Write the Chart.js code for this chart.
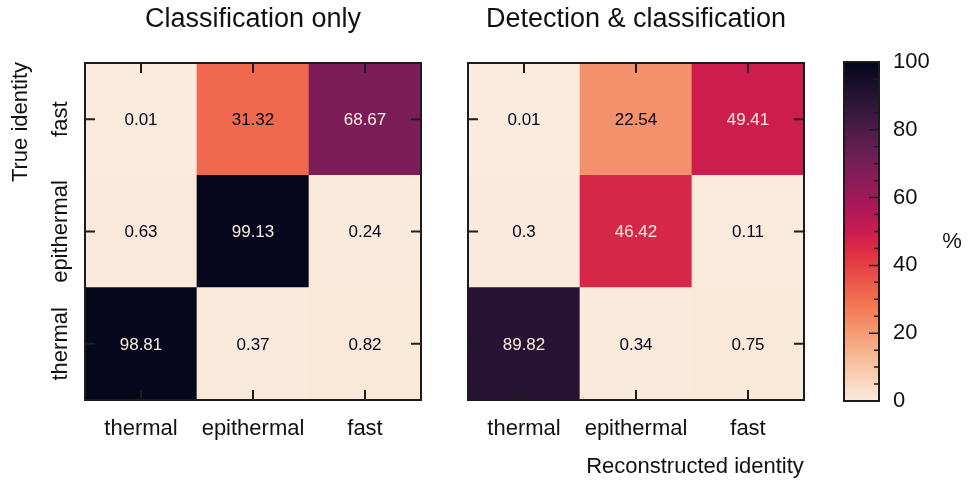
<!DOCTYPE html>
<html>
<head>
<meta charset="utf-8">
<script src="https://cdn.jsdelivr.net/npm/chart.js@4.4.1/dist/chart.umd.min.js"></script>
<style>
  body { margin: 0; background: #fff; }
  canvas { position: absolute; top: 0; }
</style>
</head>
<body>
<canvas id="classChart" width="440" height="484" style="left:0px"></canvas>
<canvas id="detectChart" width="380" height="484" style="left:440px"></canvas>
<canvas id="scaleChart" width="148" height="484" style="left:820px"></canvas>
<script>
// reconstructed identity (columns, left to right)
const predicted = ["thermal", "epithermal", "fast"];
// true identity (rows, bottom to top)
const trueIdentity = ["thermal", "epithermal", "fast"];

// percentages per true identity row, one entry per reconstructed column
const classOnlyThermal = [98.81, 0.37, 0.82];
const classOnlyEpithermal = [0.63, 99.13, 0.24];
const classOnlyFast = [0.01, 31.32, 68.67];

const detectThermal = [89.82, 0.34, 0.75];
const detectEpithermal = [0.3, 46.42, 0.11];
const detectFast = [0.01, 22.54, 49.41];

const colorbarTicks = [0, 20, 40, 60, 80, 100];

const FONT = "'Liberation Sans', Arial, Helvetica, sans-serif";
Chart.defaults.font.family = FONT;
Chart.defaults.color = "#111";

// rocket colormap, dark to light
const rocket = [
  [0, "#03051a"], [1 / 7, "#35193e"], [2 / 7, "#701f57"], [3 / 7, "#ad1759"],
  [0.5, "#cb1b4f"], [4 / 7, "#e13342"], [5 / 7, "#f37651"], [6 / 7, "#f6b48f"],
  [1, "#faebdd"]
];

function hexRgb(h) {
  return [1, 3, 5].map(i => parseInt(h.slice(i, i + 2), 16));
}

function rocketAt(t) {
  t = Math.max(0, Math.min(1, t));
  for (let i = 1; i < rocket.length; i++) {
    if (t <= rocket[i][0]) {
      const [t0, c0] = rocket[i - 1];
      const [t1, c1] = rocket[i];
      const f = (t - t0) / (t1 - t0);
      const a = hexRgb(c0), b = hexRgb(c1);
      const c = a.map((v, k) => Math.round(v + (b[k] - v) * f));
      return `rgb(${c[0]},${c[1]},${c[2]})`;
    }
  }
  return rocket[rocket.length - 1][1];
}

// reversed map: 0 % light, 100 % dark
function colorFor(v) {
  return rocketAt(1 - v / 100);
}

const frameTicks = {
  id: "frameTicks",
  afterDraw(chart) {
    const { ctx, chartArea: a, scales } = chart;
    const tl = 10;
    ctx.save();
    ctx.strokeStyle = "#1c1c1c";
    ctx.lineWidth = 2;
    ctx.beginPath();
    predicted.forEach((p, i) => {
      const x = scales.x.getPixelForValue(i);
      ctx.moveTo(x, a.top); ctx.lineTo(x, a.top + tl);
      ctx.moveTo(x, a.bottom); ctx.lineTo(x, a.bottom - tl);
    });
    trueIdentity.forEach((t, r) => {
      const y = scales.y.getPixelForValue(r + 0.5);
      ctx.moveTo(a.left, y); ctx.lineTo(a.left + tl, y);
      ctx.moveTo(a.right, y); ctx.lineTo(a.right - tl, y);
    });
    ctx.stroke();
    ctx.strokeRect(a.left, a.top, a.width, a.height);
    ctx.restore();
  }
};

const cellText = {
  id: "cellText",
  afterDatasetsDraw(chart, args, opts) {
    const { ctx, scales } = chart;
    const rows = opts.rows;
    const all = rows.flat();
    const thresh = (Math.max(...all) + Math.min(...all)) / 2;
    ctx.save();
    ctx.font = `17px ${FONT}`;
    ctx.textAlign = "center";
    ctx.textBaseline = "middle";
    rows.forEach((vals, r) => {
      vals.forEach((v, c) => {
        ctx.fillStyle = v < thresh ? "#03051a" : "#faebdd";
        ctx.fillText(String(v), scales.x.getPixelForValue(c), scales.y.getPixelForValue(r + 0.5) + 1);
      });
    });
    ctx.restore();
  }
};

// rotated row labels, axis captions
const sideText = {
  id: "sideText",
  afterDraw(chart, args, opts) {
    const { ctx, scales } = chart;
    ctx.save();
    ctx.fillStyle = "#111";
    ctx.font = `22px ${FONT}`;
    ctx.textAlign = "center";
    ctx.textBaseline = "middle";
    if (opts.rowLabels) {
      trueIdentity.forEach((t, r) => {
        ctx.save();
        ctx.translate(61, scales.y.getPixelForValue(r + 0.5));
        ctx.rotate(-Math.PI / 2);
        ctx.fillText(t, 0, 0);
        ctx.restore();
      });
      ctx.save();
      ctx.translate(21, 122);
      ctx.rotate(-Math.PI / 2);
      ctx.fillText("True identity", 0, 0);
      ctx.restore();
    }
    if (opts.xCaption) {
      ctx.fillText(opts.xCaption, 255, 467);
    }
    ctx.restore();
  }
};

function heatmap(id, title, rows, leftWidth, rightPad, extra) {
  return new Chart(document.getElementById(id), {
    type: "bar",
    data: {
      labels: predicted,
      datasets: rows.map((vals, r) => ({
        label: trueIdentity[r],
        data: vals.map(() => [r, r + 1]),
        backgroundColor: vals.map(colorFor),
        borderWidth: 0,
        grouped: false,
        barPercentage: 1,
        categoryPercentage: 1
      }))
    },
    options: {
      responsive: false,
      animation: false,
      layout: { padding: { left: 0, right: rightPad, top: 0, bottom: 0 } },
      plugins: {
        legend: { display: false },
        tooltip: { enabled: false },
        title: {
          display: true,
          text: title,
          fullSize: false,
          color: "#111",
          font: { size: 27, weight: "normal" },
          padding: { top: 3, bottom: 27.6 }
        },
        cellText: { rows },
        sideText: extra
      },
      scales: {
        x: {
          type: "category",
          grid: { display: false, drawTicks: false },
          border: { display: false },
          ticks: { font: { size: 22 }, color: "#111", padding: 16, maxRotation: 0 },
          afterFit(s) { s.height = 84; }
        },
        y: {
          type: "linear",
          min: 0,
          max: 3,
          grid: { display: false, drawTicks: false },
          border: { display: false },
          ticks: { display: false },
          afterFit(s) { s.width = leftWidth; }
        }
      }
    },
    plugins: [frameTicks, cellText, sideText]
  });
}

heatmap("classChart", "Classification only",
  [classOnlyThermal, classOnlyEpithermal, classOnlyFast], 85, 19, { rowLabels: true });
heatmap("detectChart", "Detection & classification",
  [detectThermal, detectEpithermal, detectFast], 28, 16, { xCaption: "Reconstructed identity" });

// colorbar
const colorbarFrame = {
  id: "colorbarFrame",
  afterDraw(chart) {
    const { ctx, chartArea: a, scales } = chart;
    ctx.save();
    ctx.strokeStyle = "#1c1c1c";
    ctx.lineWidth = 1.5;
    ctx.beginPath();
    for (let v = 0; v <= 100; v += 5) {
      const y = scales.y.getPixelForValue(v);
      const len = colorbarTicks.includes(v) ? 10 : 5;
      ctx.moveTo(a.right, y); ctx.lineTo(a.right - len, y);
    }
    ctx.stroke();
    ctx.lineWidth = 2;
    ctx.strokeRect(a.left, a.top, a.width, a.height);
    ctx.fillStyle = "#111";
    ctx.font = `22px ${FONT}`;
    ctx.textAlign = "center";
    ctx.textBaseline = "middle";
    ctx.fillText("%", 132, 242);
    ctx.restore();
  }
};

new Chart(document.getElementById("scaleChart"), {
  type: "bar",
  data: {
    labels: [""],
    datasets: [{
      data: [[0, 100]],
      borderWidth: 0,
      barPercentage: 1,
      categoryPercentage: 1,
      backgroundColor(c) {
        const a = c.chart.chartArea;
        if (!a) return "#faebdd";
        const g = c.chart.ctx.createLinearGradient(0, a.bottom, 0, a.top);
        rocket.forEach(([t, col]) => g.addColorStop(1 - t, col));
        return g;
      }
    }]
  },
  options: {
    responsive: false,
    animation: false,
    layout: { padding: { left: 24, right: 0, top: 62, bottom: 83 } },
    plugins: { legend: { display: false }, tooltip: { enabled: false } },
    scales: {
      x: { display: false },
      y: {
        position: "right",
        min: 0,
        max: 100,
        grid: { display: false, drawTicks: false },
        border: { display: false },
        afterBuildTicks(s) { s.ticks = colorbarTicks.map(v => ({ value: v })); },
        ticks: { font: { size: 22 }, color: "#111", padding: 14 },
        afterFit(s) { s.width = 89; }
      }
    }
  },
  plugins: [colorbarFrame]
});
</script>
</body>
</html>
